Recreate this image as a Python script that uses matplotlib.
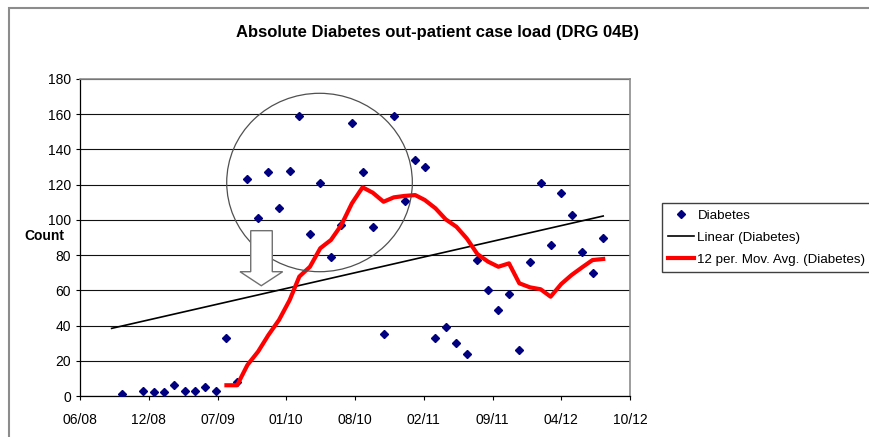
import numpy as np
import matplotlib
matplotlib.use('Agg')
import matplotlib.pyplot as plt
from matplotlib.patches import Ellipse, Polygon, Rectangle

plt.rcParams['font.family'] = ['Liberation Sans', 'DejaVu Sans']

#------------------------------
# Data
#------------------------------
nan = np.nan

# monthly out-patient counts, Sep 2008 .. Aug 2012 (empty months = nan)
months = np.arange('2008-09', '2012-09', dtype='datetime64[M]')
cases = [nan, 1, nan, 3, 2, 2, 6, 3, 3, 5, 3, 33,
         8, 123, 101, 127, 107, 128, 159, 92, 121, 79, 97, 155,
         127, 96, 35, 159, 111, 134, 130, 33, 39, 30, 24, 77,
         60, 49, 58, 26, 76, 121, 86, 115, 103, 82, 70, 90]

# 12 period moving average, Aug 2009 .. Aug 2012
ma_months = np.arange('2009-08', '2012-09', dtype='datetime64[M]')
ma12 = [6.1, 6.1, 17.6, 25.2, 34.6, 43.2, 54.5, 67.8, 73.4, 83.9, 88.6, 97.0,
        109.4, 118.5, 115.4, 110.3, 112.8, 113.6, 114.1, 111.3, 106.6, 100.3,
        96.1, 89.5, 80.6, 76.3, 73.4, 75.3, 64.0, 61.7, 60.6, 56.4, 63.6,
        68.7, 73.1, 77.2, 77.8]

# linear trend end points
trend_months = np.array(['2008-09', '2012-08'], dtype='datetime64[M]')
trend = [38.4, 102.2]

# date axis: Excel style, one major tick every 200 days
x_start = np.datetime64('2008-06-01')
tick_labels = ['06/08', '12/08', '07/09', '01/10', '08/10',
               '02/11', '09/11', '04/12', '10/12']

series_labels = ['Diabetes', 'Linear (Diabetes)', '12 per. Mov. Avg. (Diabetes)']

#------------------------------
# Figure
#------------------------------
W, H = 869, 437
fig = plt.figure(figsize=(W/100, H/100), dpi=100)
fig.patch.set_facecolor('white')

# chart area border (cut off on right and bottom like the screenshot)
fig.patches.append(Rectangle((9/W, -0.2), 2.0, 1.2 - 8/H, transform=fig.transFigure,
                             fill=False, ec='#8c8c8c', lw=1.5, clip_on=False))

ax = fig.add_axes([80/W, 41/H, 550/W, 317/H])

d = lambda m: np.asarray(m).astype('datetime64[D]')
ticks = x_start + np.arange(len(tick_labels)) * np.timedelta64(200, 'D')

l1, = ax.plot(d(months), cases, 'D', ls='none', color='#000080', ms=4.2, zorder=3)
l2, = ax.plot(d(trend_months), trend, color='black', lw=1.2, zorder=4)
l3, = ax.plot(d(ma_months), ma12, color='#ff0000', lw=3.0, zorder=5,
              solid_joinstyle='round')

ax.set_xlim(ticks[0], ticks[-1])
ax.set_ylim(0, 180)
ax.set_xticks(ticks)
ax.set_xticklabels(tick_labels)
ax.set_yticks(np.arange(0, 181, 20))

ax.yaxis.grid(True, color='#111111', lw=0.8)
ax.set_axisbelow(True)
ax.tick_params(direction='out', length=3, width=0.8, labelsize=10, colors='black')
ax.tick_params(axis='x', pad=9.5)
ax.tick_params(axis='y', pad=3.5)
for s in ['left', 'bottom']:
    ax.spines[s].set_color('black')
    ax.spines[s].set_linewidth(0.9)
for s in ['top', 'right']:
    ax.spines[s].set_color('#8c8c8c')
    ax.spines[s].set_linewidth(1.2)

# annotations: circle round the 2010 peak and the hollow arrow
ax.add_patch(Ellipse((0.4355, 0.6735), 0.3375, 0.5628, transform=ax.transAxes,
                     fill=False, ec='#505050', lw=0.9, zorder=6))
arrow = [(0.3104, 0.5215), (0.3496, 0.5215), (0.3496, 0.3921), (0.3685, 0.3921),
         (0.3296, 0.3479), (0.2909, 0.3921), (0.3104, 0.3921)]
ax.add_patch(Polygon(arrow, closed=True, transform=ax.transAxes,
                     fc='white', ec='#707070', lw=1.0, zorder=7))

fig.text(438/W, 1 - 33/H, 'Absolute Diabetes out-patient case load (DRG 04B)',
         ha='center', va='center', fontsize=12, fontweight='bold')
fig.text(44.5/W, 1 - 236/H, 'Count', ha='center', va='center',
         fontsize=10, fontweight='bold')

leg = fig.legend([l1, l2, l3], series_labels, loc='upper left',
                 bbox_to_anchor=(661.7/W, 1 - 202.7/H), borderaxespad=0,
                 fontsize=9.6, frameon=True, fancybox=False, framealpha=1,
                 edgecolor='#404040', handlelength=1.9, handletextpad=0.28,
                 labelspacing=0.72, borderpad=0.5)
leg.get_frame().set_linewidth(1.0)

plt.savefig('out.png', dpi=100)
